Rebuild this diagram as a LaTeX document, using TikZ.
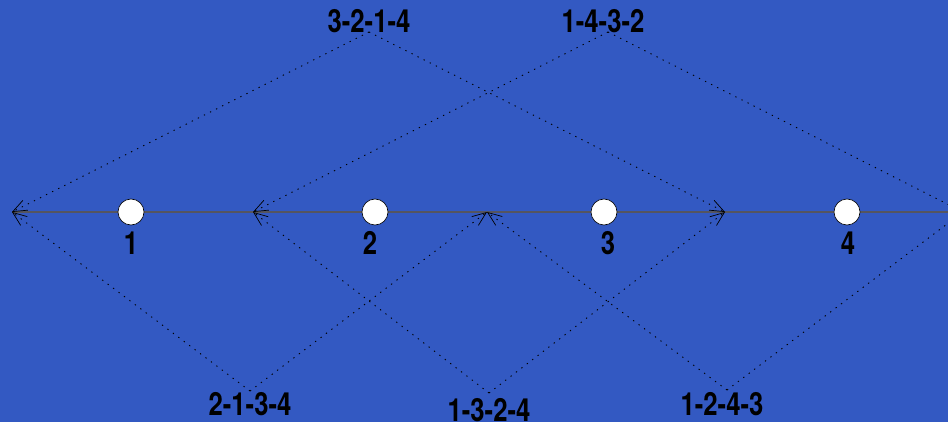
\documentclass[tikz,border=0pt]{standalone}
\usepackage{fontspec}
\setmainfont{TeX Gyre Heros}
\usetikzlibrary{arrows.meta}
\definecolor{bg}{RGB}{51,89,194}
\definecolor{axisgray}{RGB}{85,85,95}
\tikzset{
  lbl/.style={font=\bfseries\fontsize{25.7}{30}\selectfont, inner sep=0pt, yscale=1.24, transform shape},
  pt/.style={circle, draw=black, line width=0.6pt, fill=white, minimum size=26pt, inner sep=0pt},
  path/.style={black, line width=0.9pt, dash pattern=on 1.3pt off 5.5pt, -{Straight Barb[length=14pt,width=11pt,line width=0.7pt]}},
  pathnt/.style={black, line width=0.9pt, dash pattern=on 1.3pt off 5.5pt}
}
\begin{document}
\begin{tikzpicture}[x=1pt,y=-1pt]
\fill[bg] (0,0) rectangle (948,422);
\useasboundingbox (0,0) rectangle (948,422);
\clip (0,0) rectangle (948,422);
% tip coordinates on the axis
\coordinate (t1) at (12,212);
\coordinate (t2) at (253,212);
\coordinate (t3) at (487,212);
\coordinate (t4) at (725,212);
\coordinate (t5) at (963,212);
\coordinate (e) at (948,212);
% apexes
\coordinate (aA) at (369,32);
\coordinate (aB) at (608,32);
\coordinate (aC) at (250,391);
\coordinate (aD) at (489,393);
\coordinate (aE) at (727,390);
% axis
\draw[axisgray, line width=1.4pt] (t1) -- (e);
% dotted paths
\draw[path] (aA) -- (t1);
\draw[path] (aA) -- (t4);
\draw[path] (aB) -- (t2);
\draw[pathnt] (aB) -- (t5);
\draw[path] (aC) -- (t1);
\draw[path] (aC) -- (t3);
\draw[path] (aD) -- (t2);
\draw[path] (aD) -- (t4);
\draw[path] (aE) -- (t3);
\draw[pathnt] (aE) -- (t5);
% points
\node[pt] (c1) at (131,212) {};
\node[pt] (c2) at (375,212) {};
\node[pt] (c3) at (604,212) {};
\node[pt] (c4) at (847,212) {};
\node[lbl] (n1) at (131,243) {1};
\node[lbl] (n2) at (370,243) {2};
\node[lbl] (n3) at (608,243) {3};
\node[lbl] (n4) at (848,243) {4};
% permutation labels
\node[lbl] (lA) at (369,21) {3-2-1-4};
\node[lbl] (lB) at (603,21) {1-4-3-2};
\node[lbl] (lC) at (250,404) {2-1-3-4};
\node[lbl] (lD) at (489,410) {1-3-2-4};
\node[lbl] (lE) at (722,404) {1-2-4-3};
\end{tikzpicture}
\end{document}
